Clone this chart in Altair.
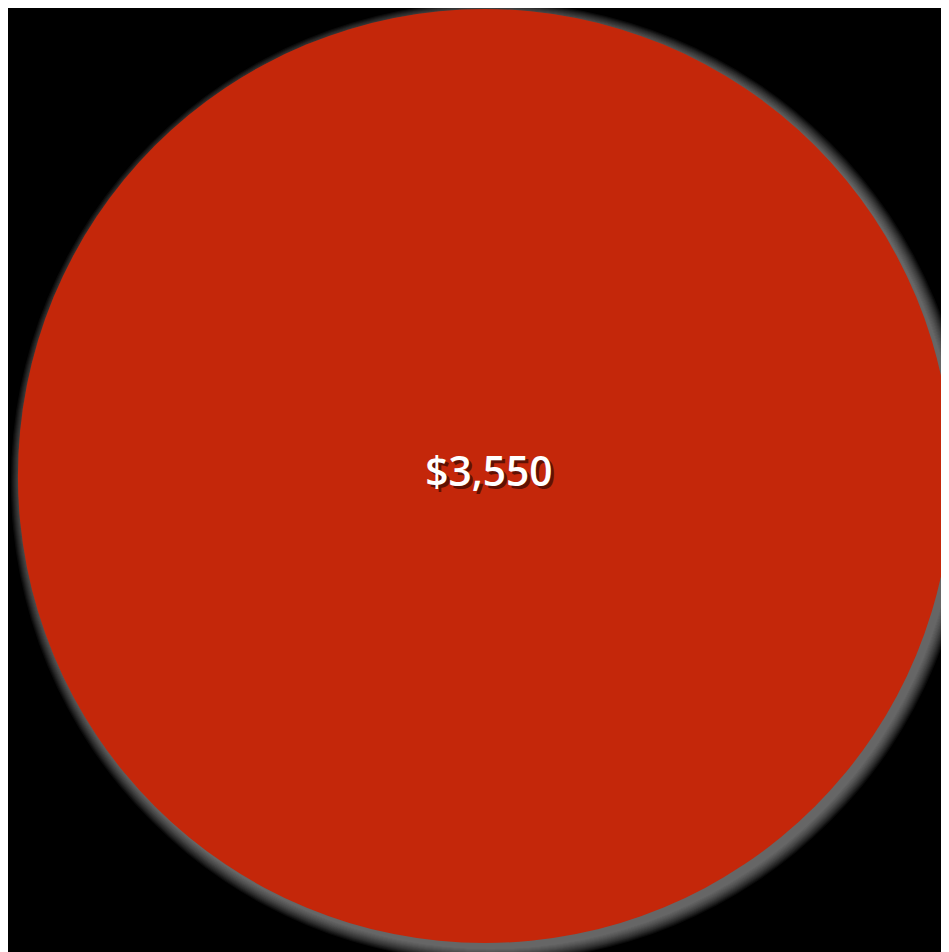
import altair as alt
import pandas as pd

categories = ["Total"]
values = [3550]
labels = ["$3,550"]

df = pd.DataFrame({"category": categories, "value": values, "label": labels})

CX, CY, R = 481, 468, 471
W, H = 941, 944

base = alt.Chart(df)

# soft glow / shadow toward bottom-right
glow_layers = []
for i in range(0, 14):
    glow_layers.append(
        base.mark_arc(radius=R + i, fill="#bbbbbb", fillOpacity=0.06, stroke=None).encode(
            theta=alt.Theta("value:Q", stack=True),
            x=alt.value(CX + 6),
            y=alt.value(CY + 6),
        )
    )

pie = base.mark_arc(radius=R, stroke=None).encode(
    theta=alt.Theta("value:Q", stack=True),
    color=alt.Color("category:N", scale=alt.Scale(range=["#C4270A"]), legend=None),
    x=alt.value(CX),
    y=alt.value(CY),
)

text_shadow = base.mark_text(
    font="Open Sans", fontSize=41, fontWeight=600, color="#1e0400", opacity=0.6,
    baseline="middle",
).encode(text="label:N", x=alt.value(CX + 7), y=alt.value(CY + 1))

text = base.mark_text(
    font="Open Sans", fontSize=41, fontWeight=600, color="white", baseline="middle"
).encode(text="label:N", x=alt.value(CX + 4), y=alt.value(CY - 2))

chart = alt.layer(*glow_layers, pie, text_shadow, text).properties(
    width=W, height=H, background="black", padding=0,
    autosize=alt.AutoSizeParams(type="none"),
).configure_view(stroke=None)

chart.save("out.html", embed_options={"renderer": "svg", "actions": False})
